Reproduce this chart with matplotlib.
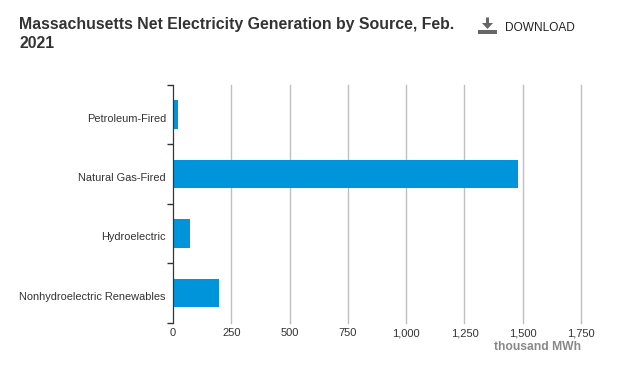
from matplotlib import pyplot as plt
from matplotlib.patches import Polygon, Rectangle
from matplotlib.transforms import ScaledTranslation

sources = ['Petroleum-Fired', 'Natural Gas-Fired', 'Hydroelectric', 'Nonhydroelectric Renewables']
values = [20, 1478, 72, 198]
x_ticks = [0, 250, 500, 750, 1000, 1250, 1500, 1750]

W, H = 623, 377

plt.rcParams['font.family'] = ['Liberation Sans', 'DejaVu Sans']

fig = plt.figure(figsize=(W/100, H/100), dpi=100)
ax = fig.add_axes([172.9/W, 1 - 322.5/H, (581.1 - 172.9)/W, (322.5 - 85)/H])

ax.barh(range(len(sources)), values, height=0.48, color='#0095db', zorder=3)
ax.set_ylim(3.5, -0.5)
ax.set_xlim(0, 1750)

ax.set_xticks(x_ticks)
ax.set_xticklabels(['{:,}'.format(t) for t in x_ticks], fontsize=8, color='#333333')
ax.tick_params(axis='x', length=0, pad=4)

# ticks sit between the categories, labels in the middle
ax.set_yticks([-0.5, 0.5, 1.5, 2.5, 3.5])
ax.set_yticklabels([])
ax.tick_params(axis='y', length=4, width=1, color='#333333')
ax.set_yticks(range(len(sources)), minor=True)
ax.set_yticklabels(sources, minor=True, fontsize=7.9, color='#333333')
ax.tick_params(axis='y', which='minor', length=0, pad=5)

# labels sit a bit under the bar centres in the original
offset = ScaledTranslation(0, -3/100, fig.dpi_scale_trans)
for label in ax.get_yticklabels(minor=True):
    label.set_transform(label.get_transform() + offset)

ax.grid(axis='x', color='#bfbfbf', linewidth=1, zorder=0, clip_on=False)
for s in ['top', 'right', 'bottom']:
    ax.spines[s].set_visible(False)
ax.spines['left'].set_color('#333333')
ax.spines['left'].set_zorder(4)

fig.text(19/W, 1 - 24/H, 'Massachusetts Net Electricity Generation by Source, Feb.',
         fontsize=11.45, fontweight='bold', color='#333333', va='center')
fig.text(19/W, 1 - 44/H, '2021', fontsize=11.45, fontweight='bold', color='#333333', va='center')
fig.text(505/W, 1 - 28/H, 'DOWNLOAD', fontsize=8.6, color='#222222', va='center')
fig.text(581/W, 1 - 347/H, 'thousand MWh', fontsize=8.7, fontweight='bold', color='#888888',
         va='center', ha='right')

# download icon
icon = '#666666'
fig.add_artist(Rectangle((478/W, 1 - 34/H), 19/W, 4/H, transform=fig.transFigure, color=icon, lw=0))
fig.add_artist(Polygon([(486/W, 1 - 17.5/H), (489/W, 1 - 17.5/H), (489/W, 1 - 23/H), (493/W, 1 - 23/H),
                        (487.5/W, 1 - 29/H), (482/W, 1 - 23/H), (486/W, 1 - 23/H)],
                       transform=fig.transFigure, color=icon, lw=0))

fig.savefig('out.png', dpi=100)
